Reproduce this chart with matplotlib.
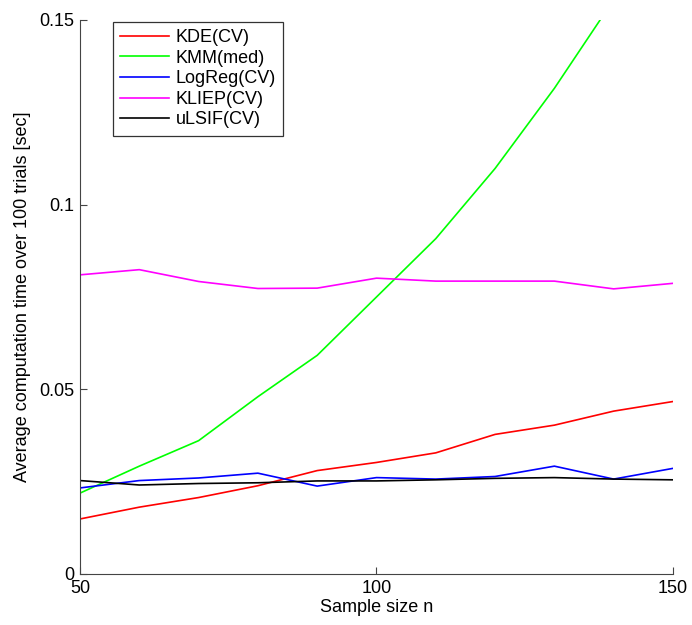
import matplotlib
matplotlib.use("Agg")
import matplotlib.pyplot as plt

# ── Data ─────────────────────────────────────────────────────────────────────
n = [50, 60, 70, 80, 90, 100, 110, 120, 130, 140, 150]

kde    = [0.0149, 0.0181, 0.0207, 0.0239, 0.0280, 0.0302, 0.0328, 0.0378, 0.0403, 0.0441, 0.0467]
kmm    = [0.0219, 0.0292, 0.0361, 0.0480, 0.0592, 0.0750, 0.0908, 0.1098, 0.1315, 0.1555, 0.1800]
logreg = [0.0233, 0.0253, 0.0260, 0.0273, 0.0238, 0.0261, 0.0257, 0.0264, 0.0292, 0.0257, 0.0286]
kliep  = [0.0810, 0.0824, 0.0792, 0.0773, 0.0774, 0.0801, 0.0793, 0.0793, 0.0793, 0.0772, 0.0787]
ulsif  = [0.0253, 0.0241, 0.0245, 0.0247, 0.0252, 0.0252, 0.0255, 0.0259, 0.0261, 0.0257, 0.0255]

series = [
    ("KDE(CV)",    kde,    "#ff0000"),
    ("KMM(med)",   kmm,    "#00ff00"),
    ("LogReg(CV)", logreg, "#0000ff"),
    ("KLIEP(CV)",  kliep,  "#ff00ff"),
    ("uLSIF(CV)",  ulsif,  "#000000"),
]

x_ticks = [50, 100, 150]
y_ticks = [0, 0.05, 0.1, 0.15]
y_tick_labels = ["0", "0.05", "0.1", "0.15"]

plt.rcParams["font.family"] = ["Liberation Sans", "DejaVu Sans"]

fig = plt.figure(figsize=(6.92, 6.25), dpi=100)
ax = fig.add_axes([0.1156, 0.0816, 0.8569, 0.8864])

for label, vals, color in series:
    ax.plot(n, vals, color=color, linewidth=1.2, label=label)

ax.set_xlim(50, 150)
ax.set_ylim(0, 0.15)
ax.set_xticks(x_ticks)
ax.set_yticks(y_ticks)
ax.set_yticklabels(y_tick_labels)

for side in ["top", "right"]:
    ax.spines[side].set_visible(False)
for side in ["left", "bottom"]:
    ax.spines[side].set_color("#444444")
    ax.spines[side].set_linewidth(0.8)

ax.tick_params(direction="in", length=5, width=0.8, color="#444444",
               labelsize=13, pad=4)
ax.set_xlabel("Sample size n", fontsize=13, labelpad=2)
ax.set_ylabel("Average computation time over 100 trials [sec]", fontsize=13, labelpad=6)

leg = ax.legend(loc="upper left", bbox_to_anchor=(0.053, 1.0), fontsize=13,
                frameon=True, fancybox=False, edgecolor="black",
                handlelength=2.7, handletextpad=0.35, labelspacing=0.2,
                borderpad=0.4, borderaxespad=0.1)
leg.get_frame().set_linewidth(0.9)

fig.savefig("out.png", dpi=100)
